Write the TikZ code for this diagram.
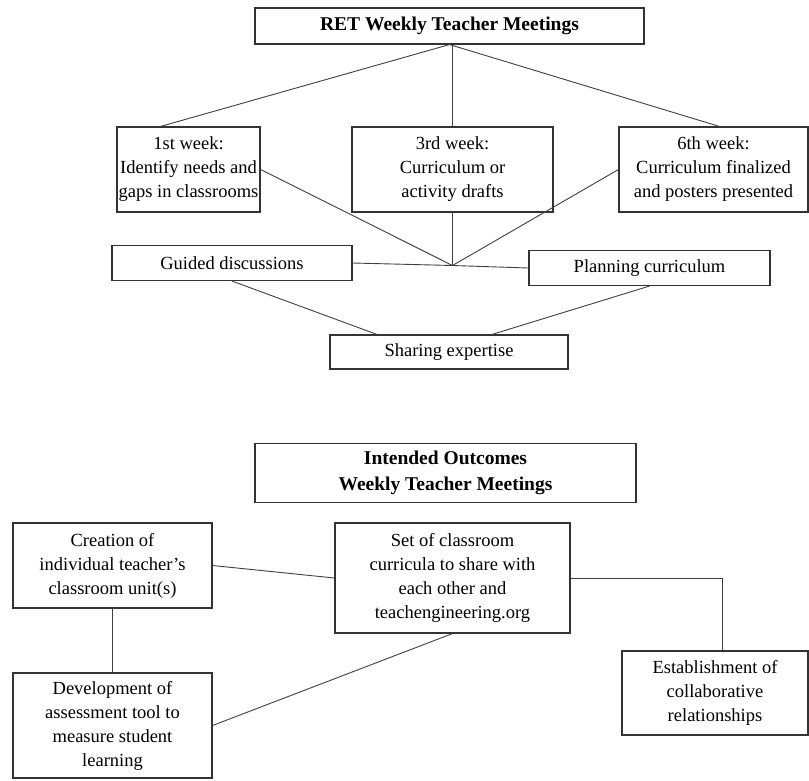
\documentclass[tikz,border=0pt]{standalone}
\usepackage{fontspec}
\setmainfont{Liberation Serif}
\usetikzlibrary{calc}
\begin{document}
\begin{tikzpicture}[x=1pt,y=-1pt,
  box/.style={draw=black!80, line width=1.1pt, inner sep=0pt, align=center,
    font=\fontsize{18.5}{24}\selectfont},
  ttl/.style={box, font=\fontsize{19.5}{25.5}\selectfont\bfseries},
  link/.style={draw=black!75, line width=0.9pt}]
\useasboundingbox (0,0) rectangle (809,780);
\fill[white] (0,0) rectangle (809,780);

% top section
\node[ttl, minimum width=389pt, minimum height=36pt] (top) at (449.5,26) {RET Weekly Teacher Meetings};
\node[box, minimum width=143pt, minimum height=85pt] (w1) at (188.5,169.5) {1st week:\\Identify needs and\\gaps in classrooms};
\node[box, minimum width=201pt, minimum height=85pt] (w3) at (452.5,169.5) {3rd week:\\Curriculum or\\activity drafts};
\node[box, minimum width=189pt, minimum height=85pt] (w6) at (713.5,169.5) {6th week:\\Curriculum finalized\\and posters presented};
\node[box, minimum width=240pt, minimum height=35pt] (gd) at (232,263) {Guided discussions};
\node[box, minimum width=241pt, minimum height=35pt] (pc) at (649.5,268) {Planning curriculum};
\node[box, minimum width=238pt, minimum height=34pt] (se) at (449,352) {Sharing expertise};
\coordinate (conv) at (452.5,265.5);

\draw[link] (top.south) -- ([xshift=-28pt]w1.north);
\draw[link] (w3.north |- top.south) -- (w3.north);
\draw[link] (top.south) -- ([xshift=6pt]w6.north);
\draw[link] (w1.east) -- (conv);
\draw[link] (w3.south) -- (conv);
\draw[link] (w6.west) -- (conv);
\draw[link] (gd.east) -- (conv) -- (pc.west);
\draw[link] (gd.south) -- ([xshift=-72pt]se.north);
\draw[link] (pc.south) -- ([xshift=43pt]se.north);

% bottom section
\node[ttl, minimum width=381pt, minimum height=59pt] (io) at (445.5,473) {Intended Outcomes\\Weekly Teacher Meetings};
\node[box, minimum width=199pt, minimum height=85pt] (cr) at (112.5,565.5) {Creation of\\individual teacher's\\classroom unit(s)};
\node[box, minimum width=235pt, minimum height=110pt] (set) at (452.5,578) {Set of classroom\\curricula to share with\\each other and\\teachengineering.org};
\node[box, minimum width=186pt, minimum height=84pt] (es) at (715,693) {Establishment of\\collaborative\\relationships};
\node[box, minimum width=199pt, minimum height=105pt] (dv) at (112.5,725.5) {Development of\\assessment tool to\\measure student\\learning};

\draw[link] (cr.east) -- (set.west);
\draw[link] (set.east) -| ([xshift=7pt]es.north);
\draw[link] (cr.south) -- (dv.north);
\draw[link] (dv.east) -- (set.south);
\end{tikzpicture}
\end{document}
